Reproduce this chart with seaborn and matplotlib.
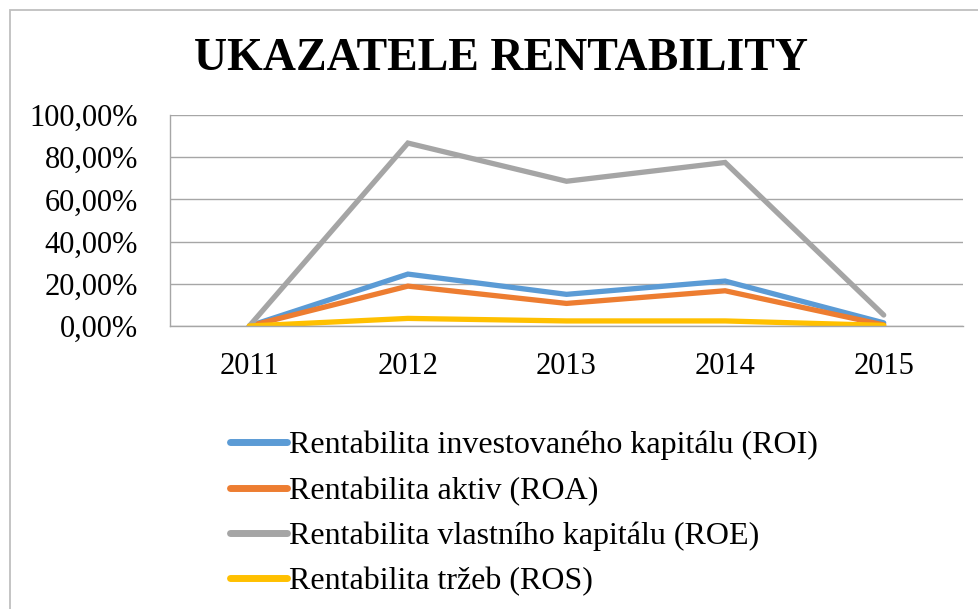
import matplotlib
matplotlib.use("Agg")
import matplotlib.pyplot as plt
import seaborn as sns
import pandas as pd
from matplotlib.patches import Rectangle
from matplotlib.ticker import FuncFormatter
from matplotlib.lines import Line2D

years = ["2011", "2012", "2013", "2014", "2015"]
roi = [0.0, 0.246, 0.150, 0.213, 0.015]
roa = [0.0, 0.189, 0.107, 0.167, 0.005]
roe = [0.0, 0.867, 0.686, 0.775, 0.052]
ros = [0.0, 0.036, 0.024, 0.024, 0.003]
series_names = [
    "Rentabilita investovaného kapitálu (ROI)",
    "Rentabilita aktiv (ROA)",
    "Rentabilita vlastního kapitálu (ROE)",
    "Rentabilita tržeb (ROS)",
]
colors = ["#5B9BD5", "#ED7D31", "#A5A5A5", "#FFC000"]

rows = []
for name, vals in zip(series_names, [roi, roa, roe, ros]):
    for y, v in zip(years, vals):
        rows.append({"Rok": y, "Hodnota": v, "Ukazatel": name})
df = pd.DataFrame(rows)

sns.set_theme(style="white")
plt.rcParams["font.family"] = ["Liberation Serif", "DejaVu Serif"]
plt.rcParams["text.color"] = "black"

W, H = 979, 609
fig = plt.figure(figsize=(W / 100, H / 100), dpi=100)
fig.patch.set_facecolor("white")
fig.patches.append(Rectangle((9.5 / W, -0.5), 2.0, 1.5 - 9.5 / H, transform=fig.transFigure,
                             fill=False, edgecolor="#BFBFBF", linewidth=1.3))

ax = fig.add_axes([170 / W, (H - 326) / H, (963 - 170) / W, (326 - 115) / H])
sns.lineplot(data=df, x="Rok", y="Hodnota", hue="Ukazatel", palette=colors,
             linewidth=3.8, ax=ax, legend=False, sort=False)
for ln in ax.lines:
    ln.set_solid_capstyle("round")
    ln.set_solid_joinstyle("miter")

ax.set_xlim(-0.5, 4.5)
ax.set_ylim(0, 1.0)
ax.set_yticks([0, 0.2, 0.4, 0.6, 0.8, 1.0])
ax.yaxis.set_major_formatter(FuncFormatter(lambda v, p: f"{v*100:.2f}".replace(".", ",") + "%"))
ax.grid(axis="y", color="#A6A6A6", linewidth=1.0)
ax.set_axisbelow(True)
for s in ["right", "top"]:
    ax.spines[s].set_visible(False)
for s in ["bottom", "left"]:
    ax.spines[s].set_color("#A6A6A6")
    ax.spines[s].set_linewidth(1.0)
ax.tick_params(axis="y", length=0, pad=23, labelsize=22, colors="black")
ax.tick_params(axis="x", length=0, pad=19, labelsize=22, colors="black")
ax.set_xlabel("")
ax.set_ylabel("")

fig.text(501 / W, 1 - 59 / H, "UKAZATELE RENTABILITY", ha="center", va="center",
         fontsize=33, fontweight="bold", color="black")

handles = [Line2D([0], [0], color=c, linewidth=5, solid_capstyle="round") for c in colors]
leg = fig.legend(handles, series_names, loc="upper left", bbox_to_anchor=(230 / W, 1 - 431 / H),
                 frameon=False, fontsize=23, handlelength=1.8, handletextpad=0.05,
                 labelspacing=0.5, borderpad=0, borderaxespad=0)
for t in leg.get_texts():
    t.set_color("black")

fig.savefig("out.png", dpi=100)
